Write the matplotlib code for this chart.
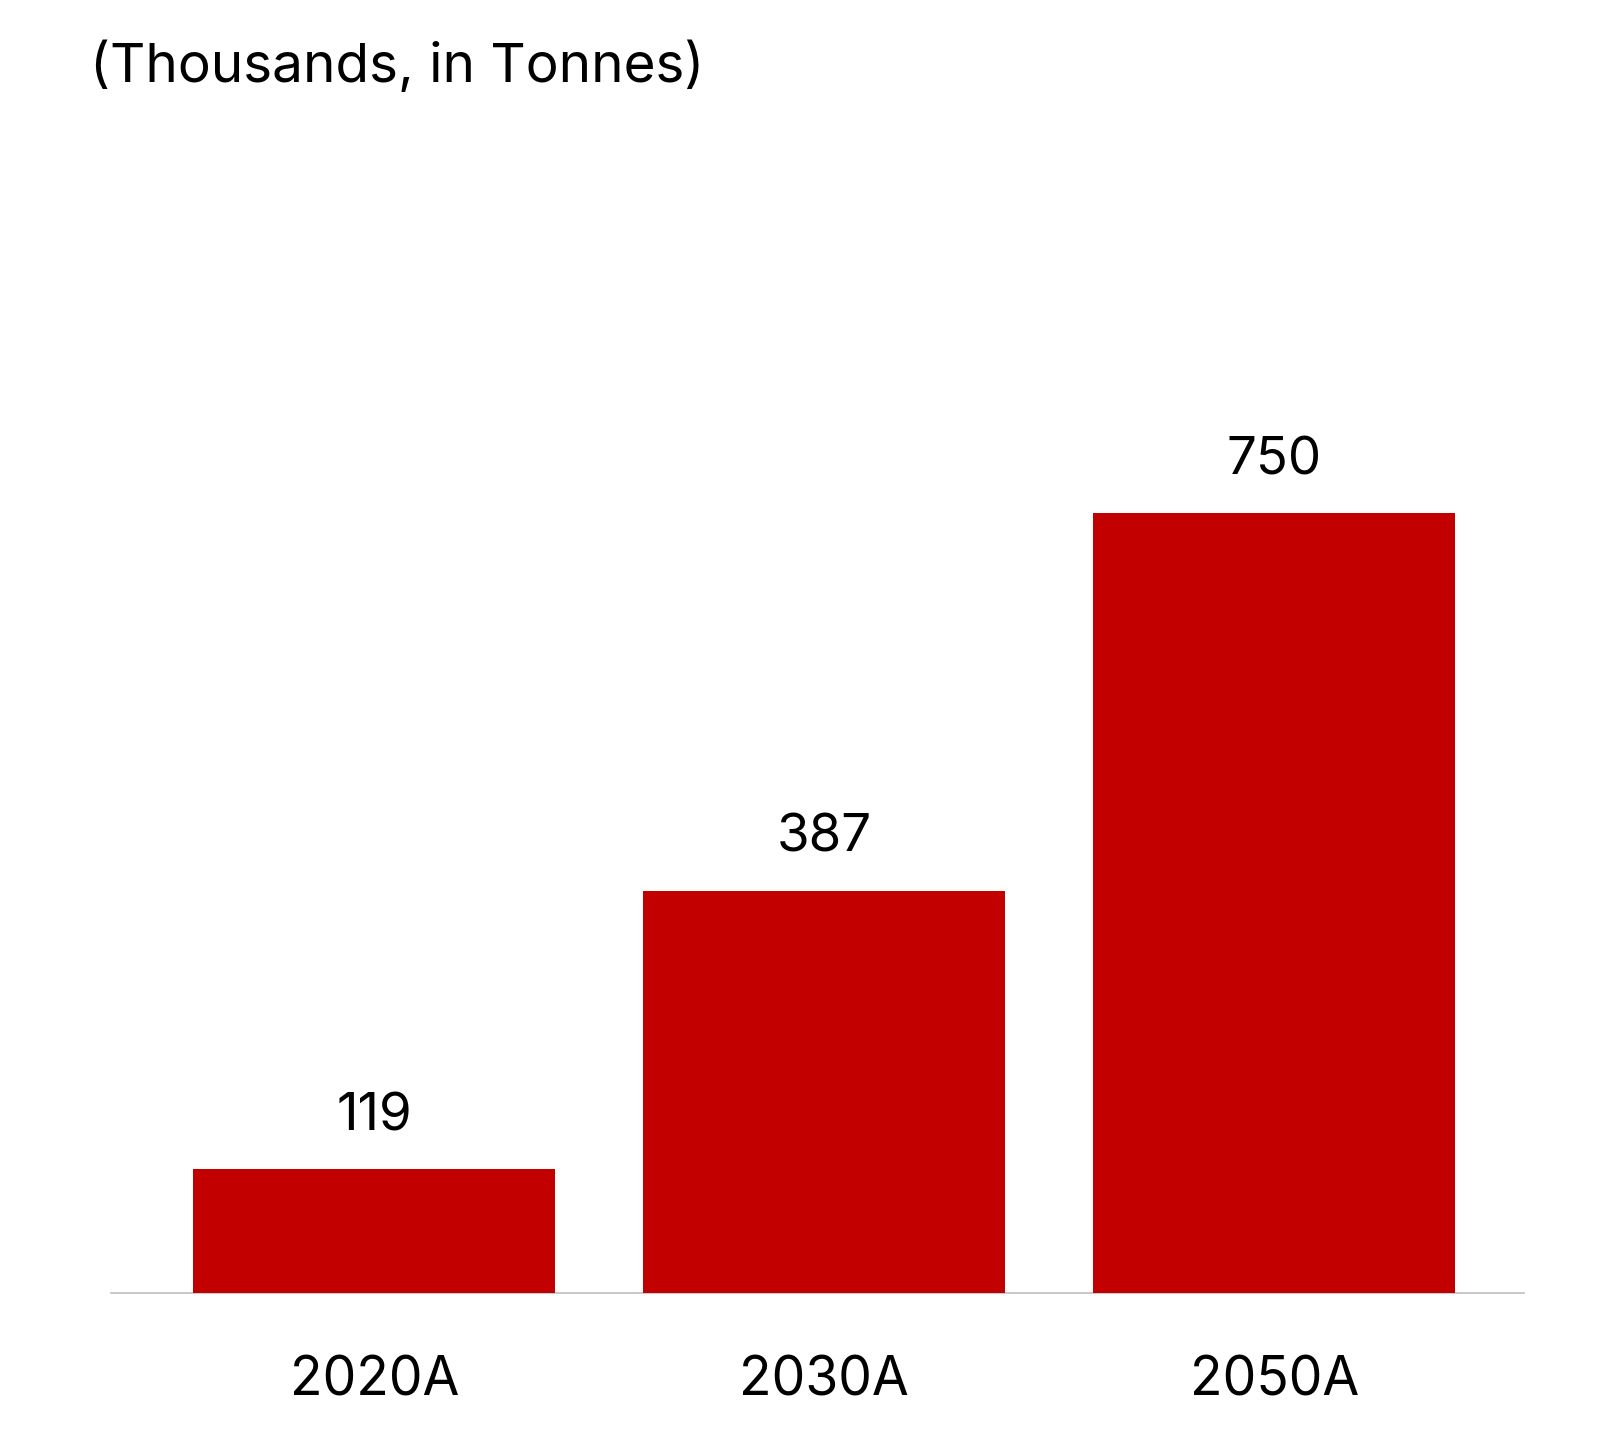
import matplotlib
matplotlib.use('Agg')
import matplotlib.pyplot as plt

# data
categories = ['2020A', '2030A', '2050A']
values = [119, 387, 750]
unit_note = '(Thousands, in Tonnes)'

BAR_COLOR = '#C30000'

plt.rcParams['font.family'] = ['Inter', 'DejaVu Sans']

fig = plt.figure(figsize=(16, 14.32), dpi=100)
# axes placed so the baseline sits where it does in the reference
ax = fig.add_axes([111 / 1600, 1 - 1293 / 1432, (1524 - 111) / 1600, (1293 - 100) / 1432])

x = list(range(len(categories)))
bars = ax.bar(x, values, width=0.805, color=BAR_COLOR, zorder=2)

ax.set_xlim(-0.585, 2.555)
ax.set_ylim(0, 1193 / 1.04)

for rect, v in zip(bars, values):
    ax.annotate(str(v), (rect.get_x() + rect.get_width() / 2, rect.get_height()),
                xytext=(0, 20), textcoords='offset points',
                ha='center', va='bottom', fontsize=38, color='black')

ax.set_xticks(x)
ax.set_xticklabels(categories, fontsize=38.5)
ax.tick_params(axis='x', length=0, pad=45)
ax.set_yticks([])

for side in ['top', 'right', 'left']:
    ax.spines[side].set_visible(False)
ax.spines['bottom'].set_color('#BFBFBF')
ax.spines['bottom'].set_linewidth(1.2)
ax.spines['bottom'].set_zorder(1)

fig.text(90 / 1600, 1 - 67 / 1432, unit_note, ha='left', va='center', fontsize=39.5)

plt.savefig('out.png', dpi=100)
plt.close()
